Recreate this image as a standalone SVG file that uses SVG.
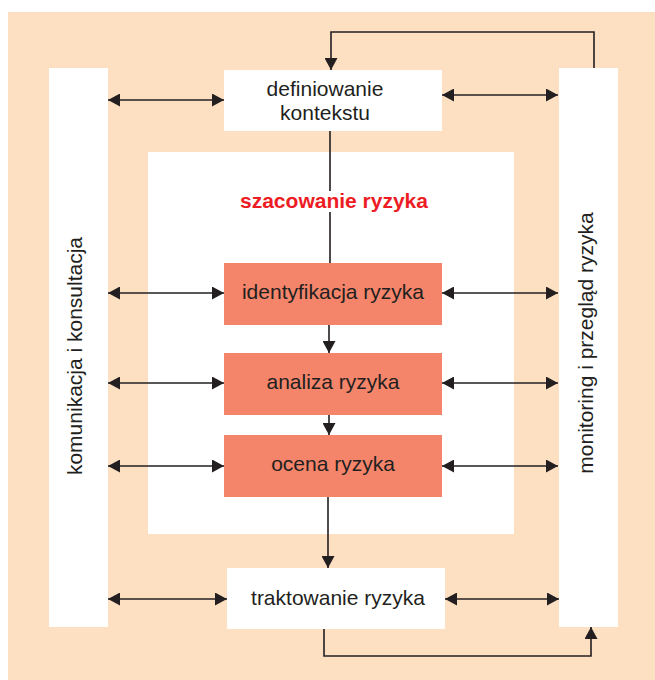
<svg xmlns="http://www.w3.org/2000/svg" width="655" height="680" viewBox="0 0 655 680">
  <defs>
    <marker id="ah" viewBox="0 0 12 13" refX="12" refY="6.5" markerWidth="12" markerHeight="13" markerUnits="userSpaceOnUse" orient="auto-start-reverse">
      <path d="M0,0 L12,6.5 L0,13 z" fill="#231F20"/>
    </marker>
    <style>
      .lbl { font-family: "Liberation Sans", Arial, sans-serif; font-size: 21px; fill: #231F20; text-anchor: middle; }
      .title { font-family: "Liberation Sans", Arial, sans-serif; font-size: 21px; font-weight: bold; fill: #ED1C24; text-anchor: middle; }
      .white { fill: #FFFFFF; }
      .step { fill: #F4856A; }
      .ln { fill: none; stroke: #231F20; stroke-width: 1.6; }
      .dbl { marker-start: url(#ah); marker-end: url(#ah); }
      .one { marker-end: url(#ah); }
    </style>
  </defs>

  <rect x="8" y="12" width="647" height="668" fill="#FDDFC1"/>

  <g id="szacowanie">
    <rect class="white" x="148" y="152" width="366" height="382"/>
    <text class="title" x="334" y="208">szacowanie ryzyka</text>
  </g>

  <g id="komunikacja">
    <rect class="white" x="49" y="68" width="59" height="559"/>
    <text class="lbl" transform="translate(82,356) rotate(-90)">komunikacja i konsultacja</text>
  </g>

  <g id="monitoring">
    <rect class="white" x="559" y="68" width="59" height="559"/>
    <text class="lbl" transform="translate(593,343) rotate(-90)">monitoring i przegląd ryzyka</text>
  </g>

  <g id="definiowanie">
    <rect class="white" x="224" y="70" width="218" height="61"/>
    <text class="lbl" x="325" y="96">definiowanie</text>
    <text class="lbl" x="325" y="120">kontekstu</text>
  </g>

  <g id="identyfikacja">
    <rect class="step" x="224" y="263" width="218" height="62"/>
    <text class="lbl" x="333" y="299">identyfikacja ryzyka</text>
  </g>

  <g id="analiza">
    <rect class="step" x="224" y="353" width="218" height="62"/>
    <text class="lbl" x="333" y="389">analiza ryzyka</text>
  </g>

  <g id="ocena">
    <rect class="step" x="224" y="435" width="218" height="62"/>
    <text class="lbl" x="333" y="471">ocena ryzyka</text>
  </g>

  <g id="traktowanie">
    <rect class="white" x="227" y="568" width="218" height="61"/>
    <text class="lbl" x="338" y="605">traktowanie ryzyka</text>
  </g>

  <g id="connectors">
    <path class="ln one" d="M594,68 V32 H331 V70"/>
    <path class="ln" d="M330,131 V191 M330,212 V263"/>
    <path class="ln one" d="M329,325 V353"/>
    <path class="ln one" d="M329,415 V435"/>
    <path class="ln one" d="M328,497 V568"/>
    <path class="ln one" d="M324,629 V656 H591 V627"/>

    <path class="ln dbl" d="M108,100 H224"/>
    <path class="ln dbl" d="M442,95 H558"/>
    <path class="ln dbl" d="M108,293 H224"/>
    <path class="ln dbl" d="M442,293 H558"/>
    <path class="ln dbl" d="M108,383 H224"/>
    <path class="ln dbl" d="M442,383 H558"/>
    <path class="ln dbl" d="M108,466 H224"/>
    <path class="ln dbl" d="M442,466 H558"/>
    <path class="ln dbl" d="M108,599 H227"/>
    <path class="ln dbl" d="M445,599 H559"/>
  </g>
</svg>
